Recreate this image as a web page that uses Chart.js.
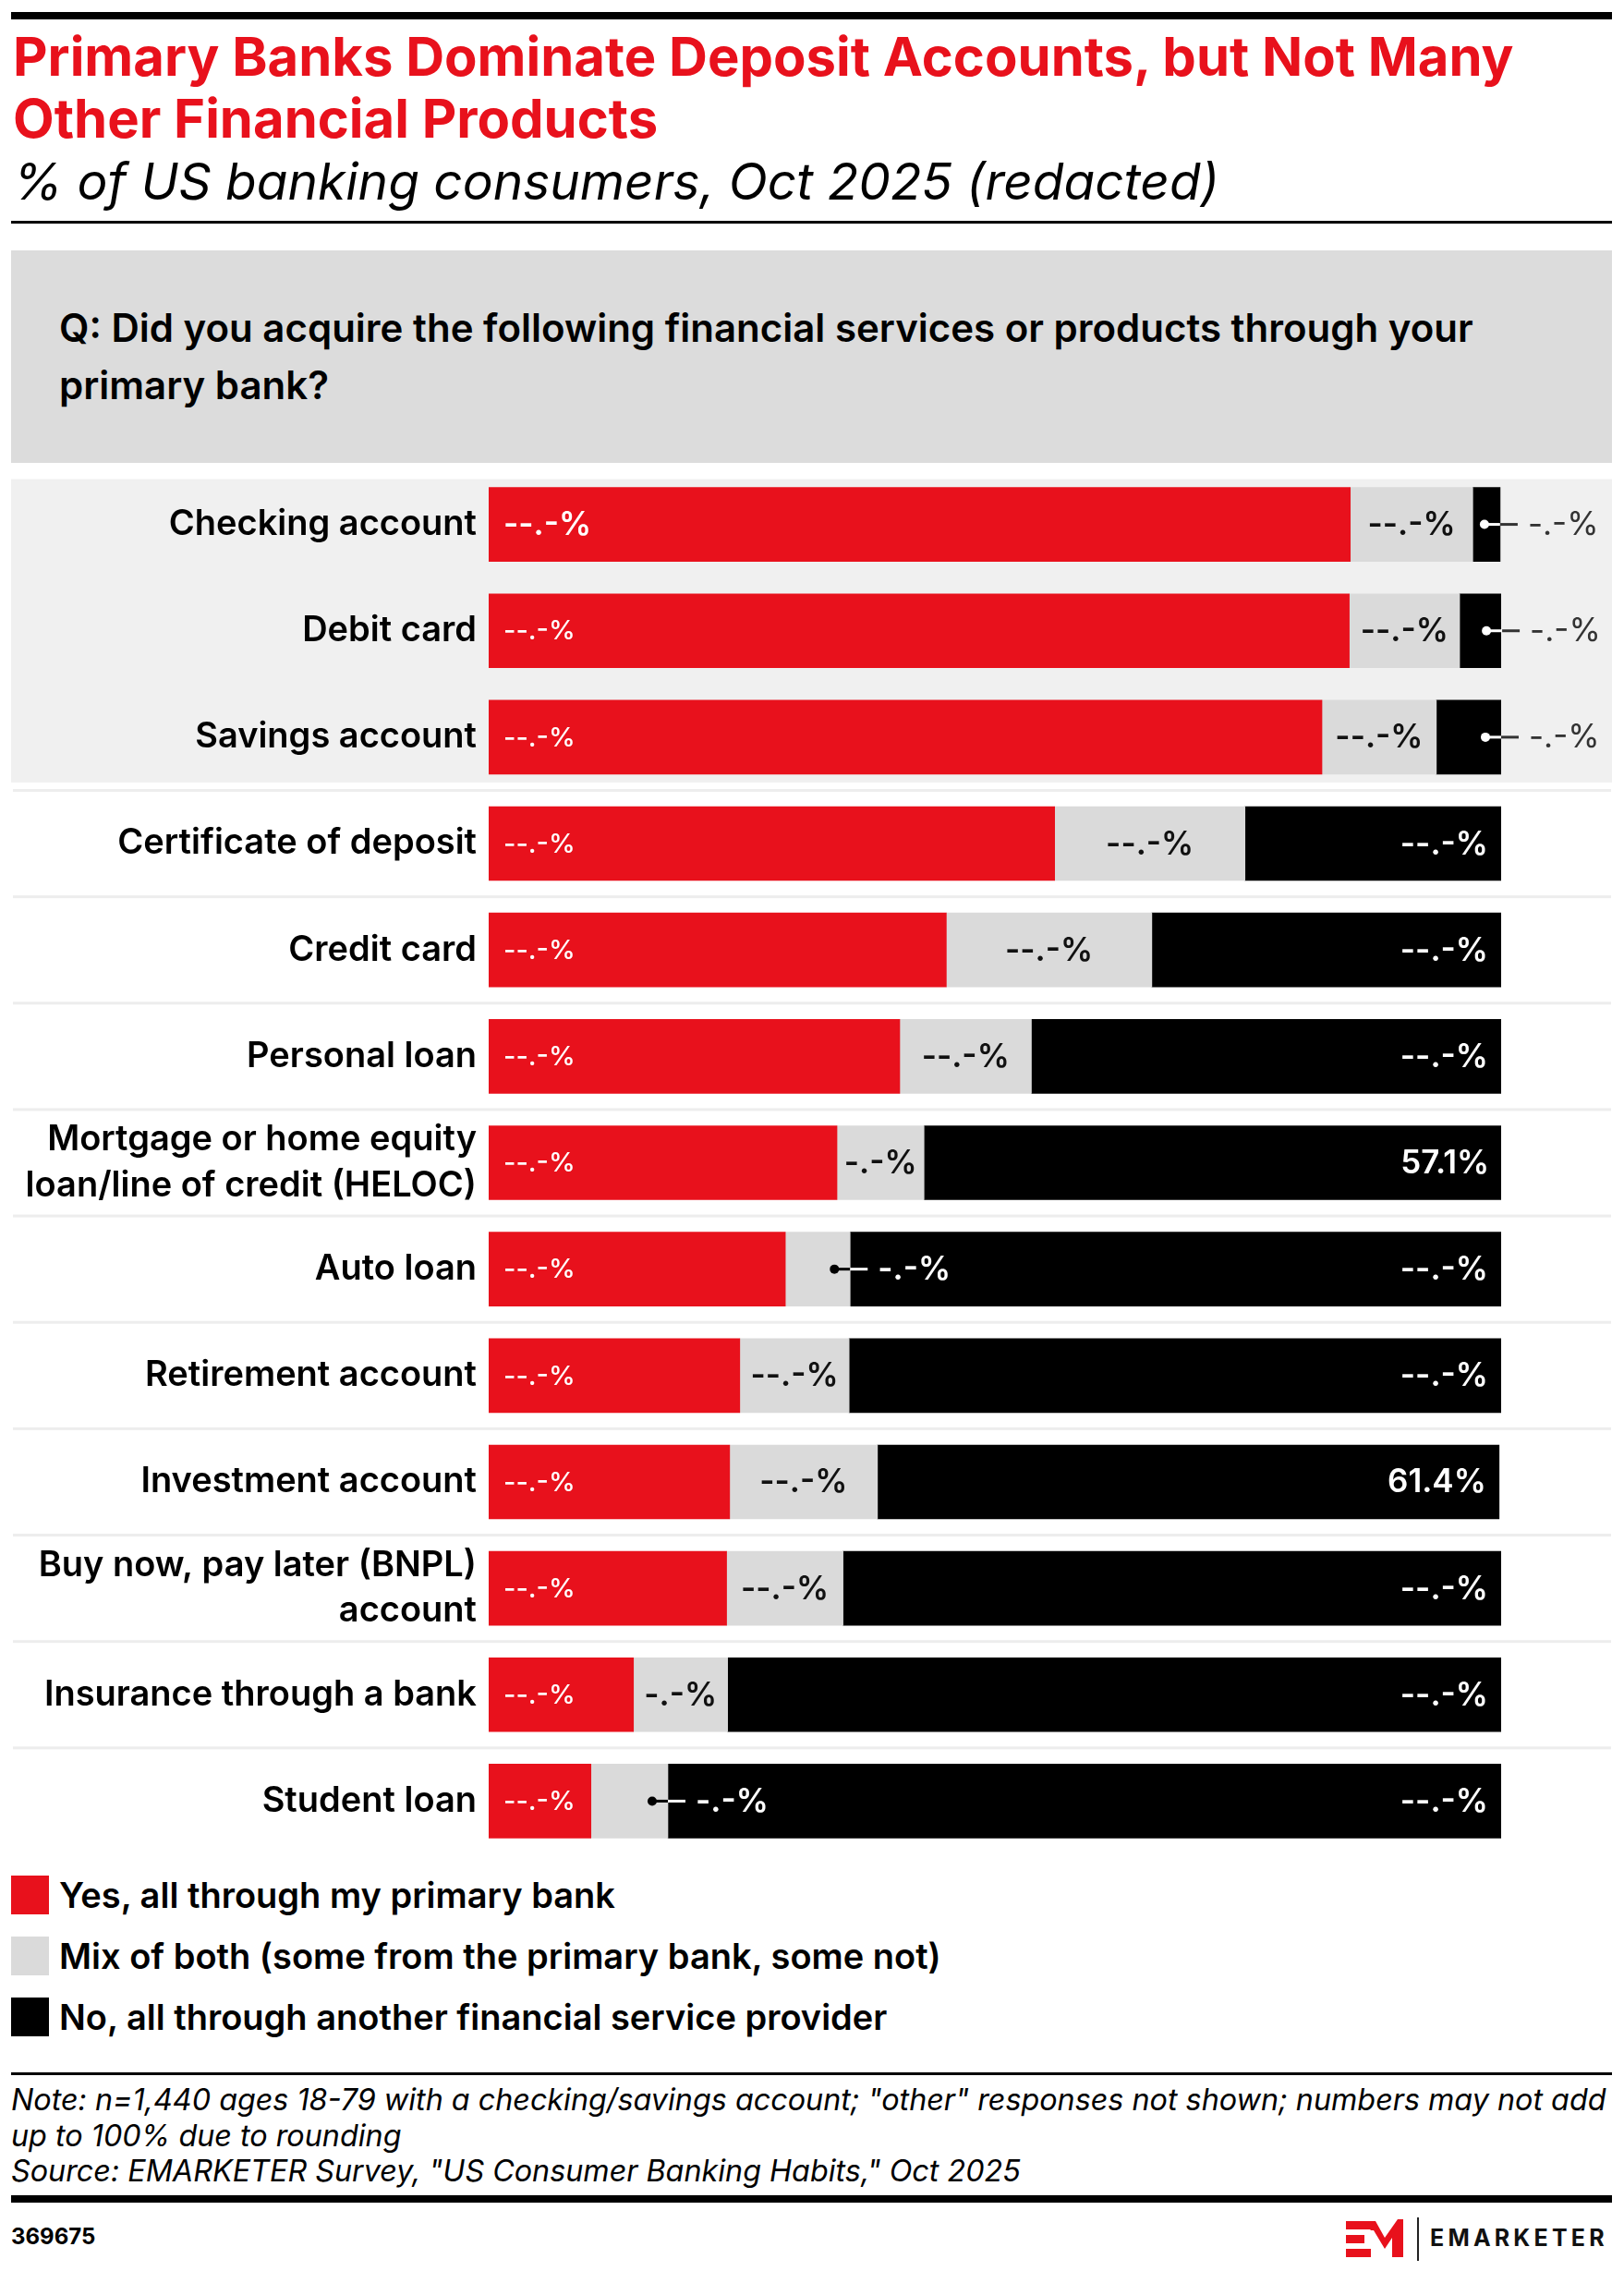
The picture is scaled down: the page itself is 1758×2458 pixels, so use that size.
<!DOCTYPE html>
<html>
<head>
<meta charset="utf-8">
<script src="https://cdn.jsdelivr.net/npm/chart.js@4/dist/chart.umd.min.js"></script>
<style>
  body { margin: 0; background: #fff; font-family: Inter, "Noto Sans", sans-serif; color: #000; }
  #page { position: relative; width: 1758px; height: 2458px; overflow: hidden; }
  .abs { position: absolute; }
  .rule { position: absolute; left: 12px; width: 1733px; background: #000; }
  #title { left: 14px; top: 28px; font-size: 58px; line-height: 67px; font-weight: 700; color: #e8111c; white-space: nowrap; }
  #subtitle { left: 14px; top: 169px; font-size: 55px; line-height: 55px; font-style: italic; font-weight: 400; white-space: nowrap; }
  #question { left: 12px; top: 271px; width: 1733px; height: 230px; background: #dcdcdc; }
  #question div { position: absolute; left: 52px; top: 53px; font-size: 42px; line-height: 62px; font-weight: 600; white-space: nowrap; }
  #chartWrap { left: 0; top: 500px; width: 1758px; height: 1520px; }
  #legend { left: 12px; top: 2030px; }
  .item { display: flex; align-items: center; height: 42px; margin-bottom: 24px; font-size: 38px; font-weight: 600; white-space: nowrap; }
  .sw { width: 41px; height: 42px; margin-right: 11px; }
  #note { left: 12px; top: 2254px; font-size: 32.3px; line-height: 38.5px; font-style: italic; white-space: nowrap; }
  #chartId { left: 12px; top: 2409px; font-size: 24px; line-height: 24px; font-weight: 700; }
  #brand { left: 1548px; top: 2410px; font-size: 25px; line-height: 25px; font-weight: 700; letter-spacing: 4.2px; color: #111; }
</style>
</head>
<body>
<div id="page">
  <div class="rule" style="top:13px;height:8px"></div>
  <div id="title" class="abs">Primary Banks Dominate Deposit Accounts, but Not Many<br>Other Financial Products</div>
  <div id="subtitle" class="abs">% of US banking consumers, Oct 2025 (redacted)</div>
  <div class="rule" style="top:239px;height:3px"></div>
  <div id="question" class="abs"><div>Q: Did you acquire the following financial services or products through your<br>primary bank?</div></div>
  <div id="chartWrap" class="abs"><canvas id="chart" width="1758" height="1520"></canvas></div>
  <div id="legend" class="abs"></div>
  <div class="rule" style="top:2243px;height:3px"></div>
  <div id="note" class="abs">Note: n=1,440 ages 18-79 with a checking/savings account; "other" responses not shown; numbers may not add<br>up to 100% due to rounding<br>Source: EMARKETER Survey, "US Consumer Banking Habits," Oct 2025</div>
  <div class="rule" style="top:2376px;height:8px"></div>
  <div id="chartId" class="abs">369675</div>
  <svg class="abs" style="left:1455px;top:2400px" width="70" height="46" viewBox="0 0 70 46">
    <rect x="2" y="4" width="27" height="9" fill="#e8111c"/>
    <rect x="2" y="19" width="20" height="9" fill="#e8111c"/>
    <rect x="2" y="34" width="27" height="9" fill="#e8111c"/>
    <polygon points="20,4 34,4 44,22 58,2 64,2 64,43 52,43 52,22 44,34 32,14 29,14" fill="#e8111c"/>
  </svg>
  <div class="abs" style="left:1534px;top:2400px;width:2px;height:47px;background:#222"></div>
  <div id="brand" class="abs">EMARKETER</div>
</div>
<script>
// categories (y axis)
const categories = [
    "Checking account",
    "Debit card",
    "Savings account",
    "Certificate of deposit",
    "Credit card",
    "Personal loan",
    ["Mortgage or home equity", "loan/line of credit (HELOC)"],
    "Auto loan",
    "Retirement account",
    "Investment account",
    ["Buy now, pay later (BNPL)", "account"],
    "Insurance through a bank",
    "Student loan",
]

const seriesNames = [
    "Yes, all through my primary bank",
    "Mix of both (some from the primary bank, some not)",
    "No, all through another financial service provider",
]

// values (%)
const yesValues = [85.1, 85.0, 82.3, 55.9, 45.2, 40.6, 34.4, 29.3, 24.8, 23.8, 23.5, 14.3, 10.1]
const mixValues = [12.1, 10.9, 11.3, 18.8, 20.3, 13.0, 8.6, 6.4, 10.8, 14.6, 11.5, 9.3, 7.6]
const noValues = [2.7, 4.2, 6.4, 25.3, 34.5, 46.4, 57.1, 64.3, 64.4, 61.4, 65.0, 76.4, 82.3]

// printed labels (most are redacted in the source)
const yesLabels = ["--.-%", "--.-%", "--.-%", "--.-%", "--.-%", "--.-%", "--.-%", "--.-%", "--.-%", "--.-%", "--.-%", "--.-%", "--.-%"]
const mixLabels = ["--.-%", "--.-%", "--.-%", "--.-%", "--.-%", "--.-%", "-.-%", "-.-%", "--.-%", "--.-%", "--.-%", "-.-%", "-.-%"]
const noLabels = ["-.-%", "-.-%", "-.-%", "--.-%", "--.-%", "--.-%", "57.1%", "--.-%", "--.-%", "61.4%", "--.-%", "--.-%", "--.-%"]

const colors = ["#e8111c", "#dadada", "#000000"]
const FONT = "Inter, 'Noto Sans', sans-serif"

// legend
const legend = document.getElementById("legend")
seriesNames.forEach((name, i) => {
    const row = document.createElement("div")
    row.className = "item"
    row.innerHTML = '<div class="sw" style="background:' + colors[i] + '"></div>' + name
    legend.appendChild(row)
})

// grey band behind the deposit rows + thin row separators
const rowBackground = {
    id: "rowBackground",
    beforeDraw(chart) {
        const { ctx, scales } = chart
        const y = scales.y
        const half = 49
        ctx.save()
        ctx.fillStyle = "#f0f0f0"
        const top = y.getPixelForValue(0) - half
        const bottom = y.getPixelForValue(2) + half
        ctx.fillRect(12, top, 1733, bottom - top)
        ctx.fillStyle = "#ededed"
        for (let i = 2; i < categories.length - 1; i++) {
            const mid = (y.getPixelForValue(i) + y.getPixelForValue(i + 1)) / 2
            ctx.fillRect(14, mid - 1.5, 1730, 3)
        }
        ctx.restore()
    },
}

// segment value labels
const labelSets = [yesLabels, mixLabels, noLabels]
const barLabels = {
    id: "barLabels",
    afterDatasetsDraw(chart) {
        const ctx = chart.ctx
        ctx.save()
        ctx.textBaseline = "middle"
        chart.data.datasets.forEach((ds, d) => {
            const meta = chart.getDatasetMeta(d)
            meta.data.forEach((bar, i) => {
                const p = bar.getProps(["x", "y", "base"], true)
                const left = Math.min(p.x, p.base)
                const right = Math.max(p.x, p.base)
                const w = right - left
                const text = labelSets[d][i]
                if (d === 0) {
                    ctx.font = (i === 0 ? "600 35px " : "500 29px ") + FONT
                    ctx.fillStyle = "#fff"
                    ctx.textAlign = "left"
                    ctx.fillText(text, left + 16, p.y + 1)
                    return
                }
                ctx.font = "600 35px " + FONT
                const tw = ctx.measureText(text).width
                const inside = d === 1 ? tw + 14 <= w : tw + 28 <= w
                if (inside) {
                    if (d === 1) {
                        ctx.fillStyle = "#111"
                        ctx.textAlign = "center"
                        ctx.fillText(text, (left + right) / 2, p.y + 1)
                    } else {
                        ctx.fillStyle = "#fff"
                        ctx.textAlign = "right"
                        ctx.fillText(text, right - 14, p.y + 1)
                    }
                    return
                }
                // too narrow: dot + leader line, label to the right
                const inColor = d === 1 ? "#000" : "#fff"
                const outColor = d === 1 ? "#fff" : "#333"
                const dotX = right - 17
                ctx.fillStyle = inColor
                ctx.beginPath()
                ctx.arc(dotX, p.y, 5, 0, Math.PI * 2)
                ctx.fill()
                ctx.fillRect(dotX, p.y - 1.5, right - dotX, 3)
                ctx.fillStyle = outColor
                ctx.fillRect(right, p.y - 1.5, 19, 3)
                ctx.font = (d === 1 ? "600 " : "400 ") + "35px " + FONT
                ctx.textAlign = "left"
                ctx.fillText(text, right + 30, p.y + 1)
            })
        })
        ctx.restore()
    },
}

new Chart(document.getElementById("chart"), {
    type: "bar",
    data: {
        labels: categories,
        datasets: [
            { label: seriesNames[0], data: yesValues, backgroundColor: colors[0] },
            { label: seriesNames[1], data: mixValues, backgroundColor: colors[1] },
            { label: seriesNames[2], data: noValues, backgroundColor: colors[2] },
        ],
    },
    options: {
        indexAxis: "y",
        responsive: false,
        animation: false,
        devicePixelRatio: 1,
        barThickness: 80,
        layout: { padding: { top: 10, bottom: 13, left: 0, right: 133 } },
        plugins: { legend: { display: false }, tooltip: { enabled: false } },
        scales: {
            x: { stacked: true, min: 0, max: 100, display: false },
            y: {
                stacked: true,
                grid: { display: false, drawTicks: false },
                border: { display: false },
                ticks: {
                    padding: 13,
                    color: "#000",
                    font: { family: FONT, size: 38, weight: 600, lineHeight: 1.3 },
                },
                afterFit(scale) {
                    scale.width = 529
                    scale.paddingTop = 0
                    scale.paddingBottom = 0
                },
            },
        },
    },
    plugins: [rowBackground, barLabels],
})
</script>
</body>
</html>
